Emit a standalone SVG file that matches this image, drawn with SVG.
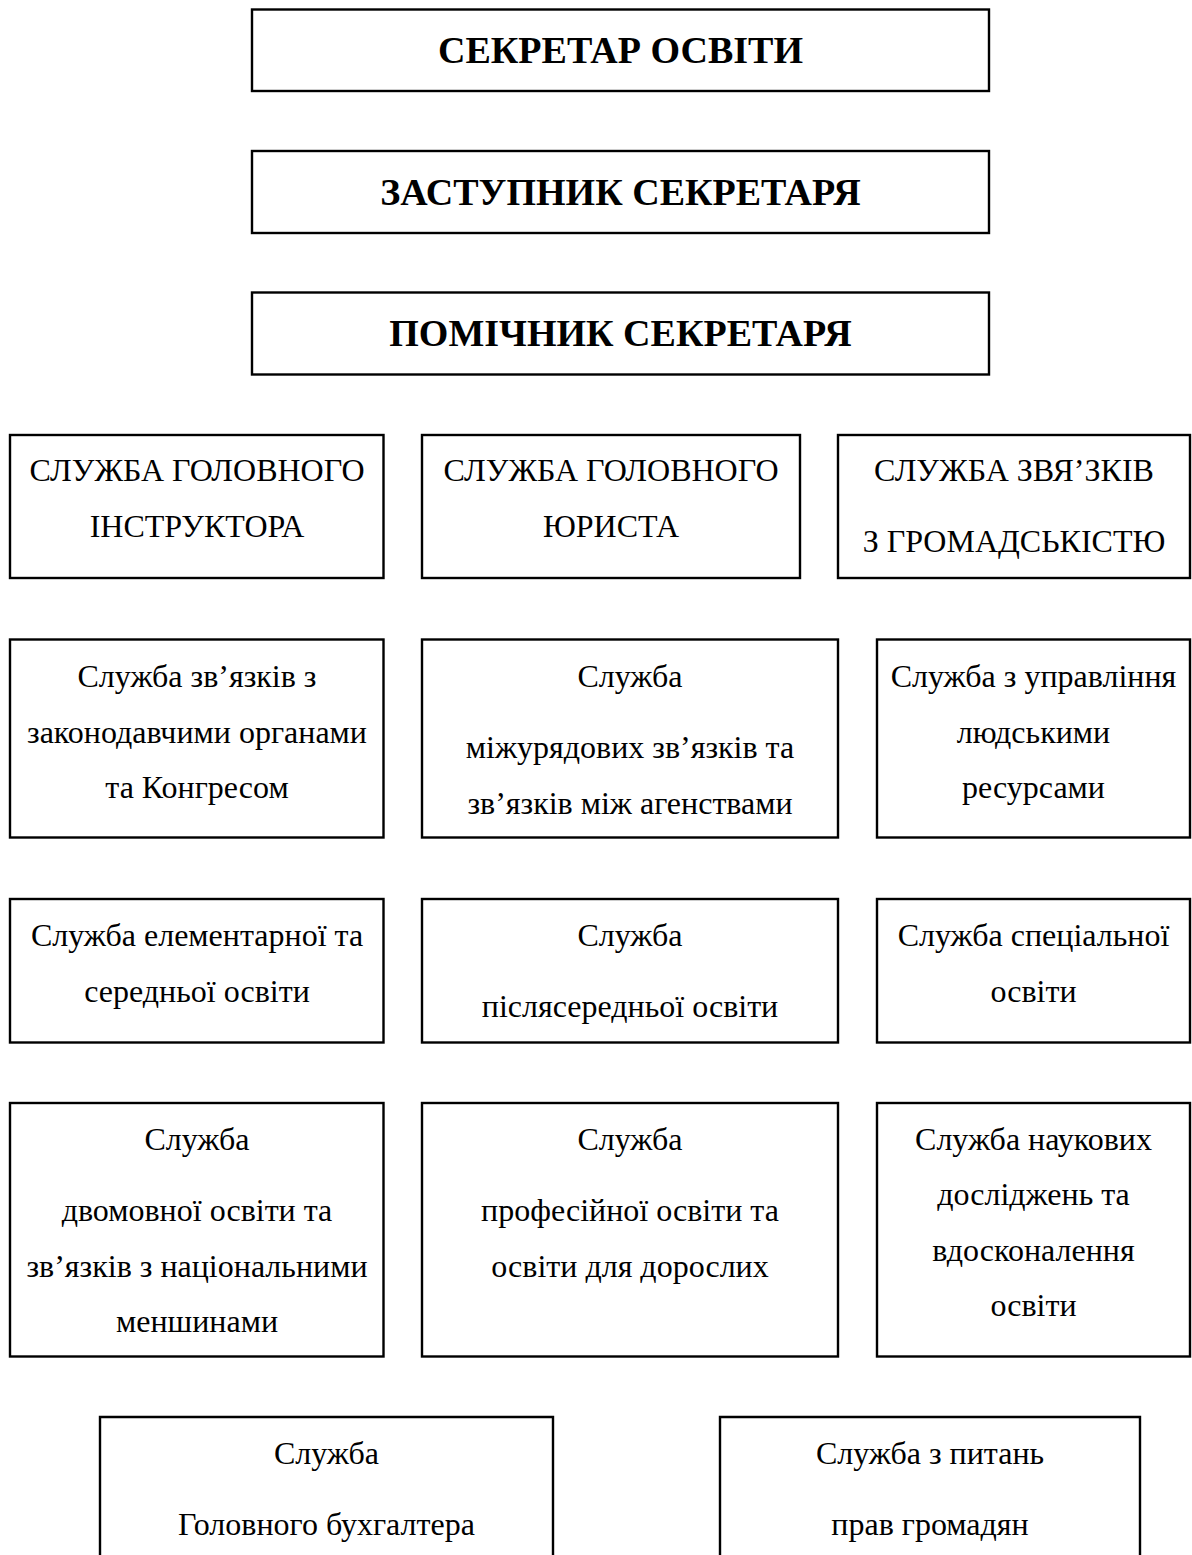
<svg xmlns="http://www.w3.org/2000/svg" width="1192" height="1555" viewBox="0 0 1192 1555">
<style>
.box{fill:#fff;stroke:#000;stroke-width:2.4}
.t{font-family:"Liberation Serif","Times New Roman",serif;font-size:32px;fill:#000;text-anchor:middle}
.h{font-family:"Liberation Serif","Times New Roman",serif;font-size:38px;font-weight:bold;fill:#000;text-anchor:middle}
</style>
<rect width="1192" height="1555" fill="#fff"/>
<g id="connectors"></g>
<g id="n1"><rect class="box" x="252" y="9.5" width="737" height="81.5"/><text class="h" x="620.5" y="63">СЕКРЕТАР ОСВІТИ</text></g>
<g id="n2"><rect class="box" x="252" y="151" width="737" height="82"/><text class="h" x="620.5" y="205">ЗАСТУПНИК СЕКРЕТАРЯ</text></g>
<g id="n3"><rect class="box" x="252" y="292.5" width="737" height="82"/><text class="h" x="620.5" y="346">ПОМІЧНИК СЕКРЕТАРЯ</text></g>

<g id="r4a"><rect class="box" x="10" y="435" width="373.5" height="143"/><text class="t" x="197" y="481">СЛУЖБА ГОЛОВНОГО</text><text class="t" x="197" y="537">ІНСТРУКТОРА</text></g>
<g id="r4b"><rect class="box" x="422" y="435" width="378" height="143"/><text class="t" x="611" y="481">СЛУЖБА ГОЛОВНОГО</text><text class="t" x="611" y="537">ЮРИСТА</text></g>
<g id="r4c"><rect class="box" x="838" y="435" width="352" height="143"/><text class="t" x="1014" y="481">СЛУЖБА ЗВЯ’ЗКІВ</text><text class="t" x="1014" y="552">З ГРОМАДСЬКІСТЮ</text></g>

<g id="r5a"><rect class="box" x="10" y="639.5" width="373.5" height="198"/><text class="t" x="197" y="687">Служба зв’язків з</text><text class="t" x="197" y="743">законодавчими органами</text><text class="t" x="197" y="798">та Конгресом</text></g>
<g id="r5b"><rect class="box" x="422" y="639.5" width="416" height="198"/><text class="t" x="630" y="687">Служба</text><text class="t" x="630" y="758">міжурядових зв’язків та</text><text class="t" x="630" y="814">зв’язків між агенствами</text></g>
<g id="r5c"><rect class="box" x="877" y="639.5" width="313" height="198"/><text class="t" x="1033.5" y="687">Служба з управління</text><text class="t" x="1033.5" y="743">людськими</text><text class="t" x="1033.5" y="798">ресурсами</text></g>

<g id="r6a"><rect class="box" x="10" y="899" width="373.5" height="143.5"/><text class="t" x="197" y="946">Служба елементарної та</text><text class="t" x="197" y="1002">середньої освіти</text></g>
<g id="r6b"><rect class="box" x="422" y="899" width="416" height="143.5"/><text class="t" x="630" y="946">Служба</text><text class="t" x="630" y="1017">післясередньої освіти</text></g>
<g id="r6c"><rect class="box" x="877" y="899" width="313" height="143.5"/><text class="t" x="1033.5" y="946">Служба спеціальної</text><text class="t" x="1033.5" y="1002">освіти</text></g>

<g id="r7a"><rect class="box" x="10" y="1103" width="373.5" height="253.5"/><text class="t" x="197" y="1150">Служба</text><text class="t" x="197" y="1221">двомовної освіти та</text><text class="t" x="197" y="1277">зв’язків з національними</text><text class="t" x="197" y="1332">меншинами</text></g>
<g id="r7b"><rect class="box" x="422" y="1103" width="416" height="253.5"/><text class="t" x="630" y="1150">Служба</text><text class="t" x="630" y="1221">професійної освіти та</text><text class="t" x="630" y="1277">освіти для дорослих</text></g>
<g id="r7c"><rect class="box" x="877" y="1103" width="313" height="253.5"/><text class="t" x="1033.5" y="1150">Служба наукових</text><text class="t" x="1033.5" y="1205">досліджень та</text><text class="t" x="1033.5" y="1261">вдосконалення</text><text class="t" x="1033.5" y="1316">освіти</text></g>

<g id="r8a"><path class="box" fill="none" d="M100 1555 V1417 H553 V1555"/><text class="t" x="326.5" y="1464">Служба</text><text class="t" x="326.5" y="1535">Головного бухгалтера</text></g>
<g id="r8b"><path class="box" fill="none" d="M720 1555 V1417 H1140 V1555"/><text class="t" x="930" y="1464">Служба з питань</text><text class="t" x="930" y="1535">прав громадян</text></g>
</svg>
